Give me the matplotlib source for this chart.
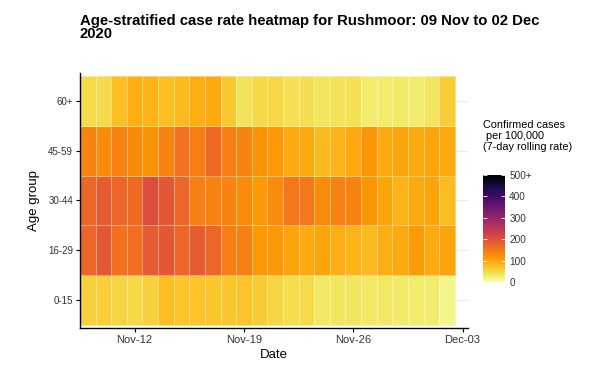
import numpy as np
import matplotlib
matplotlib.use("Agg")
import matplotlib.pyplot as plt
import matplotlib.dates as mdates
from matplotlib.colors import Normalize

plt.rcParams['font.family'] = ['Liberation Sans', 'DejaVu Sans']

# data: 7-day rolling case rate per 100,000, Rushmoor, 09 Nov - 02 Dec 2020
dates = np.arange(np.datetime64('2020-11-09'), np.datetime64('2020-12-03'))
age_groups = ['0-15', '16-29', '30-44', '45-59', '60+']
rate_0_15 = [55, 58, 52, 48, 55, 75, 70, 70, 67, 67, 70, 62, 52, 43, 45, 32, 34, 35, 33, 32, 31, 28, 28, 15]
rate_16_29 = [170, 190, 158, 160, 185, 190, 170, 185, 170, 142, 140, 112, 112, 100, 95, 100, 90, 85, 80, 90, 95, 110, 95, 100]
rate_30_44 = [170, 185, 170, 165, 205, 190, 170, 140, 135, 135, 125, 112, 125, 150, 150, 125, 138, 135, 115, 100, 85, 95, 100, 78]
rate_45_59 = [135, 125, 135, 128, 120, 135, 155, 142, 165, 140, 135, 118, 112, 95, 95, 80, 85, 95, 115, 95, 100, 95, 100, 95]
rate_60 = [45, 45, 75, 90, 85, 75, 80, 90, 95, 65, 38, 47, 50, 40, 42, 36, 38, 40, 28, 28, 30, 26, 36, 60]
cbar_ticks = [0, 100, 200, 300, 400, 500]
cbar_labels = ['0', '100', '200', '300', '400', '500+']

rates = np.array([rate_0_15, rate_16_29, rate_30_44, rate_45_59, rate_60])

fig = plt.figure(figsize=(5.89, 3.72), dpi=100)
ax = fig.add_axes([0.1358, 0.1183, 0.6588, 0.6855])

xnum = mdates.date2num(dates)
xedges = np.append(xnum - 0.5, xnum[-1] + 0.5)
yedges = np.arange(len(age_groups) + 1) - 0.5

norm = Normalize(0, 500)
mesh = ax.pcolormesh(xedges, yedges, np.clip(rates, 0, 500), cmap='inferno_r', norm=norm,
                     edgecolors=(1, 1, 1, 0.4), linewidth=0.5, zorder=2)

ax.set_xlim(xnum[0] - 0.5, xnum[-1] + 1.35)
ax.set_ylim(-0.56, 4.56)

ax.set_yticks(range(len(age_groups)))
ax.set_yticklabels(age_groups)
ticks = mdates.date2num(np.array(['2020-11-12', '2020-11-19', '2020-11-26', '2020-12-03'], dtype='datetime64[D]'))
ax.set_xticks(ticks)
ax.xaxis.set_major_formatter(mdates.DateFormatter('%b-%d'))

ax.grid(axis='y', color='#ebebeb', linewidth=0.8, zorder=0)
ax.set_axisbelow(True)
for s in ['top', 'right']:
    ax.spines[s].set_visible(False)
for s in ['left', 'bottom']:
    ax.spines[s].set_linewidth(1.0)
ax.tick_params(axis='y', labelsize=7, colors='#333333', length=3, width=0.8, pad=2)
ax.tick_params(axis='x', labelsize=8, colors='#333333', length=3, width=0.8, pad=2)
ax.tick_params(axis='both', color='black')

ax.set_xlabel('Date', fontsize=9.5, labelpad=3)
ax.set_ylabel('Age group', fontsize=9.5, labelpad=6)

fig.text(0.1358, 0.962, 'Age-stratified case rate heatmap for Rushmoor: 09 Nov to 02 Dec\n2020',
         fontsize=10.7, fontweight='bold', ha='left', va='top', linespacing=0.9)

# colour bar legend
cax = fig.add_axes([0.820, 0.242, 0.0374, 0.288])
cb = fig.colorbar(mesh, cax=cax, ticks=cbar_ticks)
cb.set_ticklabels(cbar_labels)
cb.outline.set_visible(False)
cax.tick_params(labelsize=7.2, colors='white', labelcolor='#333333', direction='in',
                length=3, width=0.6, left=True, right=True, pad=3)
fig.text(0.820, 0.678, 'Confirmed cases\n per 100,000\n(7-day rolling rate)', fontsize=7.8,
         ha='left', va='top', linespacing=1.15)

fig.savefig('out.png', dpi=100)
